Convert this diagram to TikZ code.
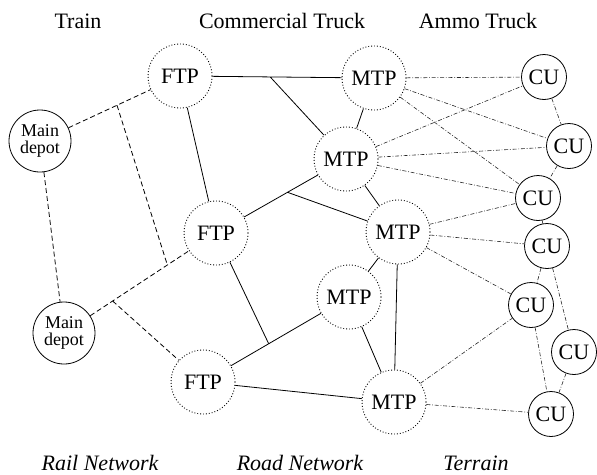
\documentclass[tikz,border=0pt]{standalone}
\usepackage{fontspec}
\setmainfont{Liberation Serif}
\usetikzlibrary{calc}

\begin{document}
\begin{tikzpicture}[x=1pt, y=-1pt, font=\fontsize{22}{24}\selectfont,
  depot/.style={circle, draw, line width=0.8pt, minimum size=62pt, inner sep=0pt, align=center, font=\fontsize{18}{17}\selectfont},
  tp/.style={circle, draw, dotted, line width=0.9pt, minimum size=64pt, inner sep=0pt},
  cu/.style={circle, draw, line width=0.8pt, minimum size=45pt, inner sep=0pt},
  rail/.style={line width=0.8pt, dash pattern=on 5pt off 3pt},
  road/.style={line width=0.8pt},
  terrain/.style={line width=0.6pt, black!85, dash pattern=on 4pt off 1.8pt on 0.8pt off 1.8pt},
  layer/.style={anchor=base},
  network/.style={anchor=base, font=\fontsize{22}{24}\selectfont\itshape}]

\useasboundingbox (0,0) rectangle (597,474);

% Column heads
\node[layer] (htrain) at (78,28) {Train};
\node[layer] (htruck) at (282,28) {Commercial Truck};
\node[layer] (hammo) at (478,28) {Ammo Truck};

% Rail network
\node[depot] (md1) at (40,141) {Main\\depot};
\node[depot] (md2) at (64,333) {Main\\depot};

% Road network
\node[tp] (ftp1) at (180,76) {FTP};
\node[tp] (ftp2) at (216,233) {FTP};
\node[tp] (ftp3) at (203,382) {FTP};
\node[tp] (mtp1) at (374,78) {MTP};
\node[tp] (mtp2) at (346,159) {MTP};
\node[tp] (mtp3) at (398,232) {MTP};
\node[tp] (mtp4) at (349,297) {MTP};
\node[tp] (mtp5) at (394,402) {MTP};

% Terrain
\node[cu] (cu1) at (544,77) {CU};
\node[cu] (cu2) at (569,146) {CU};
\node[cu] (cu3) at (538,198) {CU};
\node[cu] (cu4) at (547,246) {CU};
\node[cu] (cu5) at (531,305) {CU};
\node[cu] (cu6) at (574,352) {CU};
\node[cu] (cu7) at (551,414) {CU};

% branch points
\coordinate (r1) at ($(md1)!0.55!(ftp1)$);
\coordinate (r2) at ($(md2)!0.68!(ftp2)$);
\coordinate (r3) at ($(md2)!0.32!(ftp2)$);
\coordinate (j1) at ($(ftp1)!0.465!(mtp1)$);
\coordinate (j2) at ($(ftp2)!0.55!(mtp2)$);
\coordinate (j3) at ($(ftp3)!0.45!(mtp4)$);

% rail links
\draw[rail] (md1) -- (ftp1) (md1) -- (md2) (md2) -- (ftp2);
\draw[rail] (r1) -- (r2) (r3) -- (ftp3);

% road links
\draw[road] (ftp1) -- (mtp1) (j1) -- (mtp2) (ftp1) -- (ftp2);
\draw[road] (ftp2) -- (mtp2) (j2) -- (mtp3) (ftp2) -- (j3);
\draw[road] (ftp3) -- (mtp4) (ftp3) -- (mtp5);
\draw[road] (mtp1) -- (mtp2) (mtp2) -- (mtp3) (mtp3) -- (mtp4) (mtp3) -- (mtp5) (mtp4) -- (mtp5);

% terrain links
\draw[terrain] (mtp1) -- (cu1) (mtp1) -- (cu2) (mtp1) -- (cu3);
\draw[terrain] (mtp2) -- (cu1) (mtp2) -- (cu2) (mtp2) -- (cu3);
\draw[terrain] (mtp3) -- (cu3) (mtp3) -- (cu4) (mtp3) -- (cu5);
\draw[terrain] (mtp5) -- (cu5) (mtp5) -- (cu7);
\draw[terrain] (cu1) -- (cu2) (cu2) -- (cu3) (cu3) -- (cu4) (cu4) -- (cu5) (cu4) -- (cu6) (cu5) -- (cu7) (cu6) -- (cu7);

% Network names
\node[network] (frail) at (100,470) {Rail Network};
\node[network] (froad) at (300,470) {Road Network};
\node[network] (fterr) at (476,470) {Terrain};

\end{tikzpicture}
\end{document}
